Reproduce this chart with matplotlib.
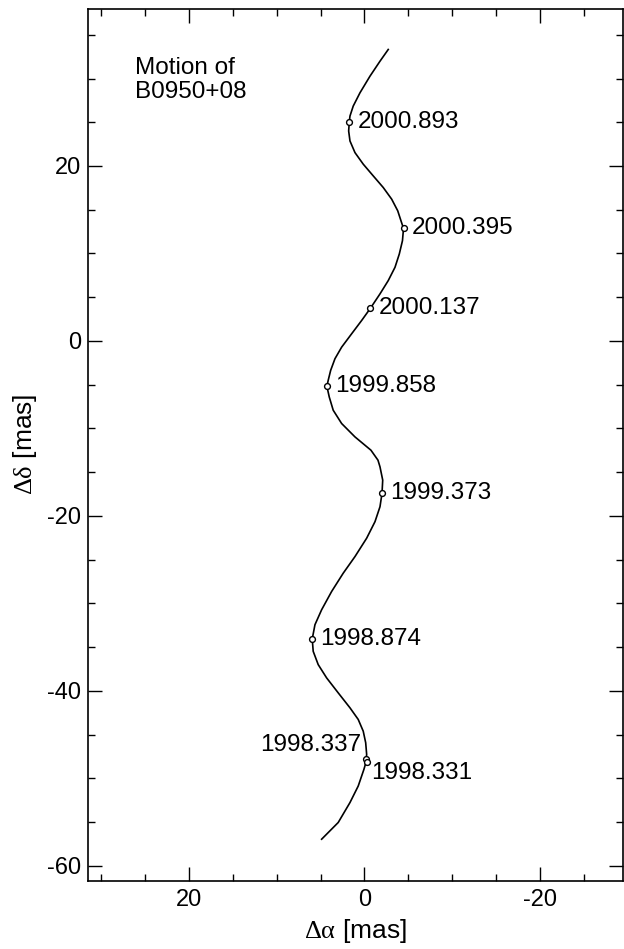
import matplotlib
matplotlib.use("Agg")
import matplotlib.pyplot as plt
from matplotlib.ticker import MultipleLocator

plt.rcParams['font.family'] = ['Liberation Sans', 'DejaVu Sans']
plt.rcParams['mathtext.fontset'] = 'custom'
plt.rcParams['mathtext.rm'] = 'Liberation Serif'
plt.rcParams['mathtext.it'] = 'Liberation Serif'
plt.rcParams['axes.unicode_minus'] = False

# Model track of the pulsar, mas
track_ra = [-2.71, -1.77, -0.63, 0.51, 1.28, 1.65, 1.73, 1.80, 1.65, 1.08,
            0.14, -1.00, -2.14, -3.10, -3.79, -4.16, -4.45, -4.33, -3.97, -3.48,
            -2.71, -1.77, -0.68, 0.32, 1.46, 2.60, 3.36, 3.85, 4.13, 4.28,
            4.01, 3.56, 2.60, 1.08, -0.74, -1.54, -1.77, -2.08, -2.00, -1.77,
            -1.20, -0.25, 1.08, 2.42, 3.74, 4.88, 5.64, 5.95, 5.84, 5.27,
            4.31, 2.99, 1.65, 0.71, 0.14, -0.14, -0.25, -0.17, 0.06, 0.71,
            1.65, 2.99, 4.88]
track_dec = [33.32, 31.98, 30.27, 28.37, 26.85, 25.71, 25.03, 24.00, 22.86, 21.53,
             20.21, 18.87, 17.54, 16.21, 14.88, 13.74, 12.86, 11.46, 9.94, 8.42,
             6.90, 5.38, 3.74, 2.34, 0.82, -0.71, -2.03, -3.36, -4.50, -5.19,
             -6.41, -7.92, -9.44, -10.97, -12.49, -13.63, -14.39, -15.91, -17.42, -18.95,
             -20.66, -22.55, -24.65, -26.55, -28.64, -30.73, -32.44, -34.07, -35.48, -37.00,
             -38.52, -40.23, -41.94, -43.27, -44.61, -45.93, -47.26, -48.18, -48.97, -50.88,
             -52.77, -55.05, -56.96]

# Observed epochs
epochs = ['2000.893', '2000.395', '2000.137', '1999.858', '1999.373',
          '1998.874', '1998.337', '1998.331']
obs_ra = [1.73, -4.45, -0.68, 4.28, -2.00, 5.95, -0.23, -0.34]
obs_dec = [25.03, 12.86, 3.74, -5.19, -17.42, -34.07, -47.80, -48.12]

fig = plt.figure(figsize=(6.24, 9.49), dpi=100)
ax = fig.add_axes([0.141, 0.072, 0.858, 0.919])

ax.plot(track_ra, track_dec, color='black', lw=1.2, zorder=2)
ax.plot(obs_ra, obs_dec, 'o', ms=4.2, mfc='white', mec='black', mew=1.0, zorder=3)

fs = 17.5
for lab, x, y in zip(epochs, obs_ra, obs_dec):
    if lab == '1998.337':
        ax.annotate(lab, (x, y), xytext=(-3.5, 10), textcoords='offset points',
                    ha='right', va='center', fontsize=fs)
    elif lab == '1998.331':
        ax.annotate(lab, (x, y), xytext=(3, -8), textcoords='offset points',
                    ha='left', va='center', fontsize=fs)
    else:
        ax.annotate(lab, (x, y), xytext=(6, 0), textcoords='offset points',
                    ha='left', va='center', fontsize=fs)

ax.text(0.088, 0.944, 'Motion of\nB0950+08', transform=ax.transAxes,
        ha='left', va='top', fontsize=fs, linespacing=1.12)

ax.set_xlim(31.5, -29.5)
ax.set_ylim(-61.7, 38.0)

ax.xaxis.set_major_locator(MultipleLocator(20))
ax.xaxis.set_minor_locator(MultipleLocator(5))
ax.yaxis.set_major_locator(MultipleLocator(20))
ax.yaxis.set_minor_locator(MultipleLocator(5))

ax.tick_params(which='both', direction='in', top=True, right=True, width=1.0,
               labelsize=17)
ax.tick_params(which='major', length=10)
ax.tick_params(which='minor', length=5)
ax.tick_params(axis='x', pad=6)
ax.tick_params(axis='y', pad=5)
for s in ax.spines.values():
    s.set_linewidth(1.2)

ax.set_xlabel(r'$\mathrm{\Delta\alpha}$ [mas]', fontsize=19, labelpad=4)
ax.set_ylabel(r'$\mathrm{\Delta\delta}$ [mas]', fontsize=19, labelpad=6)

fig.savefig('out.png', dpi=100)
